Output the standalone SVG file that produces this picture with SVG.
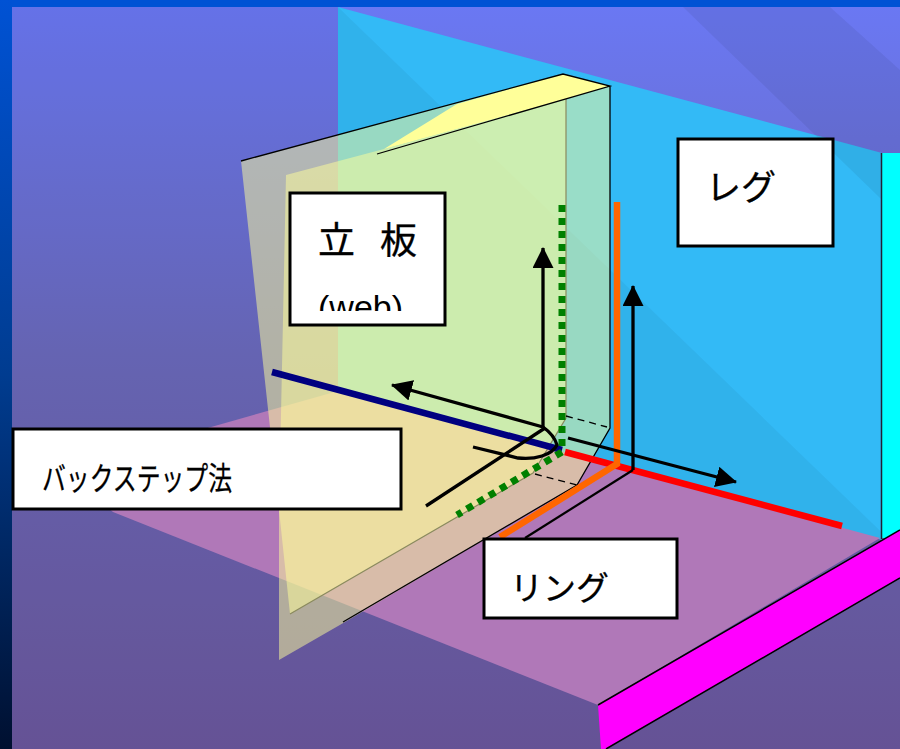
<svg xmlns="http://www.w3.org/2000/svg" width="900" height="749" viewBox="0 0 900 749">
<style>
.lab{fill:#fff;stroke:#000;stroke-width:3}
.t{font-family:"Noto Sans CJK JP","Noto Sans",sans-serif;fill:#000;stroke:#000;stroke-width:.3}
.plate{fill:#ffff99;fill-opacity:.5}
.ar{fill:none;stroke:#000;stroke-width:3.300}
</style>
<defs>
<linearGradient id="bg" x1="0" y1="0" x2="0" y2="1"><stop offset="0" stop-color="#6a78f4"/><stop offset=".5" stop-color="#6a68b8"/><stop offset="1" stop-color="#6a569c"/></linearGradient>
<linearGradient id="side" x1="0" y1="0" x2="0" y2="1"><stop offset="0" stop-color="#0052d4"/><stop offset=".5" stop-color="#003c90"/><stop offset="1" stop-color="#001030"/></linearGradient>
<clipPath id="webclip"><rect x="292" y="195" width="151" height="116"/></clipPath>
<marker id="ah" markerUnits="userSpaceOnUse" markerWidth="22" markerHeight="22" refX="20" refY="10.500" orient="auto"><path d="M0 0L21 10.500L0 21Z" fill="#000"/></marker>
</defs>
<rect width="900" height="749" fill="url(#bg)"/>
<g id="leg-plane"><path d="M338 7L882 153V540L338 391Z" fill="#33baf6"/></g>
<g id="shading">
<path d="M0 7H338L900 550V749H0Z" fill="#000" fill-opacity=".045"/>
<path d="M683 7H830L900 70V220L880 198Z" fill="#000" fill-opacity=".06"/>
</g>
<rect width="900" height="7" fill="#0052d4"/>
<rect y="0" width="12" height="749" fill="url(#side)"/>
<g id="floor"><path d="M338 391L880 538L598 705L113 512L60 470Z" fill="#b078b8"/></g>
<g id="column"><rect x="882" y="153" width="18" height="385" fill="#0ff"/><path d="M881.500 153V539" stroke="#223" stroke-width="1.500" fill="none"/></g>
<g id="flange"><path d="M598 705L900 530V578L606 749H601Z" fill="#f0f"/><path d="M598 705L900 530M606 749L900 578" stroke="#000" stroke-width="1.500" fill="none"/></g>
<g id="web">
<path class="plate" d="M241 161L563 74L610 86V428L577 485L345 622L279 660V510Z"/>
<path class="plate" d="M286 175L384 149L566 99V418L533 473L290 614L279 510Z"/>
<path d="M384 149L457 104L563 74L610 86L566 99Z" fill="#ffff99"/>
<path d="M566 99V418L533 473L290 614" fill="none" stroke="#8a8a5e" stroke-width="1.200"/>
<path d="M241 161L563 74L610 86L377 154M610 86V428L577 485L343 622" fill="none" stroke="#000" stroke-width="1.300"/>
<path d="M566 416L607 427M535 474L577 485" fill="none" stroke="#000" stroke-width="1.300" stroke-dasharray="7 5"/>
</g>
<g id="connectors">
<path d="M565 452L842 526" stroke="#f00" stroke-width="6.500" fill="none"/>
<path d="M272 372L562 450" stroke="#000080" stroke-width="6.500" fill="none"/>
<path d="M617 202V464L500 537" stroke="#f60" stroke-width="6.500" fill="none"/>
<path d="M633 470L525 538" stroke="#000" stroke-width="2.200" fill="none"/>
<path d="M562 205V452L457 515" stroke="#008000" stroke-width="7" stroke-dasharray="7 6" fill="none"/>
<path class="ar" d="M543 427V248" marker-end="url(#ah)"/>
<path class="ar" d="M633 470V286" marker-end="url(#ah)"/>
<path class="ar" d="M543 427L392 385" marker-end="url(#ah)"/>
<path class="ar" d="M568 438L736 482" marker-end="url(#ah)"/>
<path class="ar" d="M426 506L545 428"/>
<path class="ar" d="M473 447L518 458C535 460 552 455 557 445C555 438 550 432 543 427"/>
</g>
<g id="label-web"><rect class="lab" x="290" y="193" width="155" height="132"/><text class="t" font-size="37" y="254" x="318 360 380">立 板</text><g clip-path="url(#webclip)"><text font-family="Liberation Sans,sans-serif" font-size="34" x="318" y="319">(web)</text></g></g>
<g id="label-leg"><rect class="lab" x="678" y="139" width="155" height="107"/><text class="t" font-size="35" x="706" y="200">レグ</text></g>
<g id="label-backstep"><rect class="lab" x="13" y="429" width="388" height="80"/><text class="t" font-size="32" x="42" y="490" textLength="190" lengthAdjust="spacingAndGlyphs">バックステップ法</text></g>
<g id="label-ring"><rect class="lab" x="484" y="539" width="193" height="79"/><text class="t" font-size="33" x="510" y="600">リング</text></g>
</svg>
